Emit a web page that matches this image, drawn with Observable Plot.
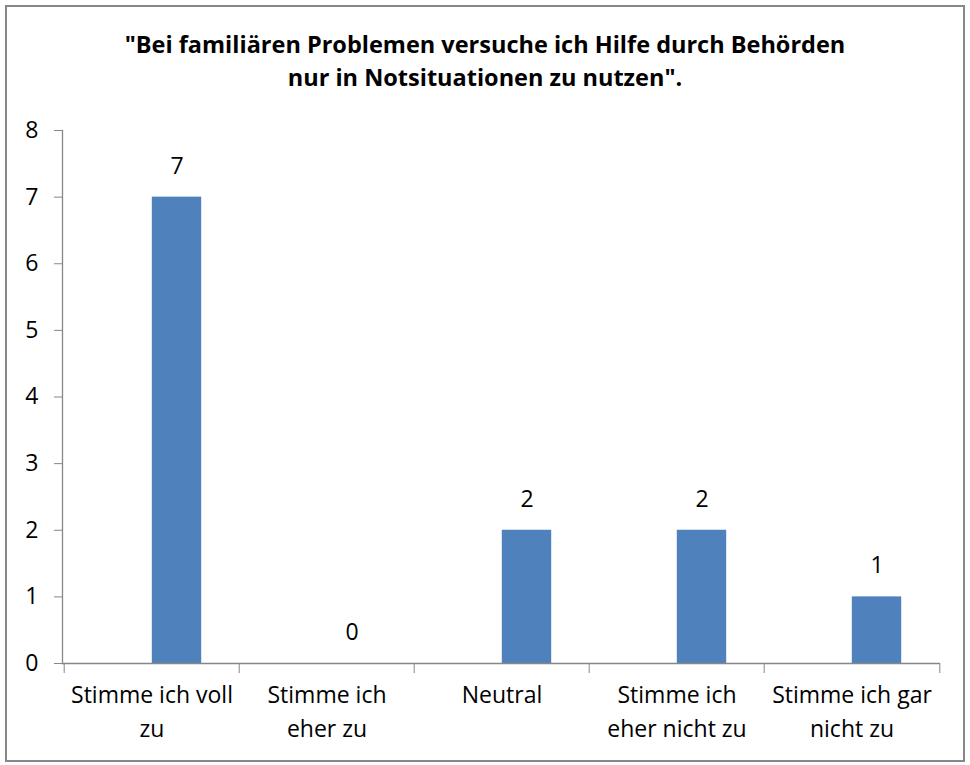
<!DOCTYPE html>
<html>
<head>
<meta charset="utf-8">
<script src="https://cdn.jsdelivr.net/npm/d3@7"></script>
<script src="https://cdn.jsdelivr.net/npm/@observablehq/plot@0.6"></script>
<style>
  html, body { margin: 0; padding: 0; background: #fff; }
  #box { position: absolute; left: 5px; top: 5px; width: 956px; height: 753px;
         border: 2px solid #878787; background: #fff; overflow: hidden; }
  #title { position: absolute; left: 0; top: 21px; width: 956px; text-align: center;
           font-family: "Open Sans", sans-serif; font-weight: bold; font-size: 23.5px;
           line-height: 33px; color: #000; }
  #chart { position: absolute; left: 0; top: 93px; }
</style>
</head>
<body>
<div id="box">
  <div id="title"></div>
  <div id="chart"></div>
</div>
<script>
const titleLines = ["\"Bei familiären Problemen versuche ich Hilfe durch Behörden", "nur in Notsituationen zu nutzen\"."];
const categories = ["Stimme ich voll zu", "Stimme ich eher zu", "Neutral", "Stimme ich eher nicht zu", "Stimme ich gar nicht zu"];
const tickLabels = ["Stimme ich voll\nzu", "Stimme ich\neher zu", "Neutral", "Stimme ich\neher nicht zu", "Stimme ich gar\nnicht zu"];
const values = [7, 0, 2, 2, 1];
const yTicks = [0, 1, 2, 3, 4, 5, 6, 7, 8];

document.getElementById("title").innerHTML = titleLines.join("<br>");

const data = categories.map((c, i) => ({cat: c, value: values[i]}));
const W = 956, H = 660, mL = 55, mR = 23, mT = 30, mB = 97;
const band = (W - mL - mR) / categories.length;
const barW = 50;
const labelMap = new Map(categories.map((c, i) => [c, tickLabels[i]]));
const font = "'Open Sans', sans-serif";
const axisColor = "#878787";
const fs = 23;

const chart = Plot.plot({
  width: W, height: H,
  marginLeft: mL, marginRight: mR, marginTop: mT, marginBottom: mB,
  style: {fontFamily: font, fontSize: fs + "px", color: "#000", background: "#fff"},
  x: {type: "band", domain: categories, padding: 0, axis: null, label: null},
  y: {domain: [0, 8], axis: null, label: null},
  marks: [
    Plot.barY(data, {x: "cat", y: "value", fill: "#4F81BD",
      insetLeft: band / 2, insetRight: band / 2 - barW}),
    Plot.text(data, {x: "cat", y: "value", text: d => String(d.value),
      dx: barW / 2, dy: -31, fontSize: fs, fill: "#000"}),
    Plot.ruleY([0], {stroke: axisColor, strokeWidth: 1.3}),
    Plot.frame({anchor: "left", stroke: axisColor, strokeWidth: 1.3}),
    Plot.axisY({ticks: yTicks, tickSize: 8, tickPadding: 16, stroke: axisColor, label: null,
      tickFormat: d => String(d), fontSize: fs, fill: "#000"}),
    Plot.axisX({tickSize: 0, tickPadding: 15, tickFormat: d => labelMap.get(d), label: null,
      lineHeight: 1.48, fontSize: fs, fill: "#000", textAnchor: "middle"}),
    Plot.axisX({tickSize: 10, tickFormat: () => "", stroke: axisColor, dx: -band / 2, label: null}),
    Plot.axisX(categories.slice(-1), {tickSize: 10, tickFormat: () => "", stroke: axisColor, dx: band / 2, label: null})
  ]
});
document.getElementById("chart").appendChild(chart);
</script>
</body>
</html>
